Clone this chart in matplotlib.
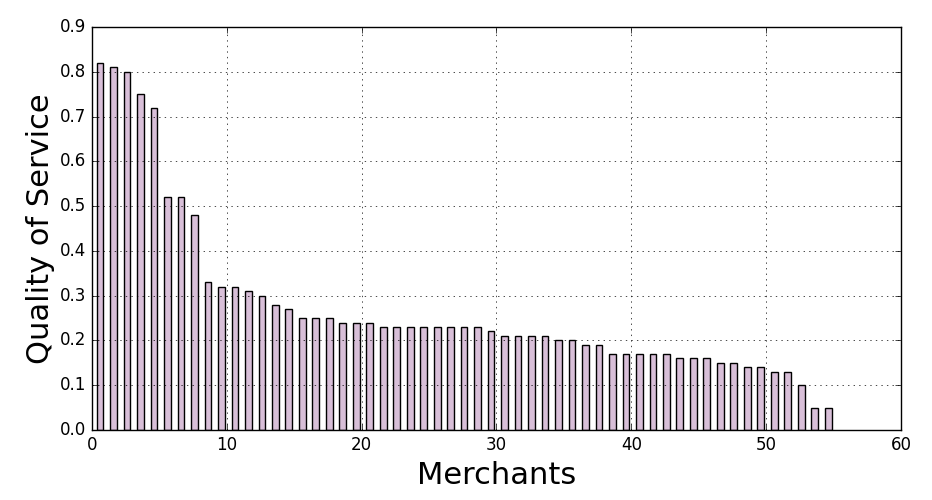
import numpy as np
import matplotlib
matplotlib.use("Agg")
import matplotlib.pyplot as plt

plt.style.use('classic')

quality = [0.82, 0.81, 0.80, 0.75, 0.72, 0.52, 0.52, 0.48, 0.33, 0.32,
           0.32, 0.31, 0.30, 0.28, 0.27, 0.25, 0.25, 0.25, 0.24, 0.24,
           0.24, 0.23, 0.23, 0.23, 0.23, 0.23, 0.23, 0.23, 0.23, 0.22,
           0.21, 0.21, 0.21, 0.21, 0.20, 0.20, 0.19, 0.19, 0.17, 0.17,
           0.17, 0.17, 0.17, 0.16, 0.16, 0.16, 0.15, 0.15, 0.14, 0.14,
           0.13, 0.13, 0.10, 0.05, 0.05]
merchants = np.arange(len(quality))

fig = plt.figure(figsize=(9.32, 5), dpi=100, facecolor='white')
ax = fig.add_axes([0.0987, 0.14, 0.868, 0.806])

ax.bar(merchants + 0.35, quality, width=0.5, align='edge',
       color='#D8BFD8', edgecolor='black', linewidth=1)

ax.set_xlim(0, 60)
ax.set_ylim(0, 0.9)
ax.set_yticks(np.arange(0, 0.91, 0.1))
ax.set_xlabel("Merchants", fontsize=22)
ax.set_ylabel("Quality of Service", fontsize=22, labelpad=3.5)
ax.grid(True)

fig.savefig("out.png", dpi=100, facecolor='white')
